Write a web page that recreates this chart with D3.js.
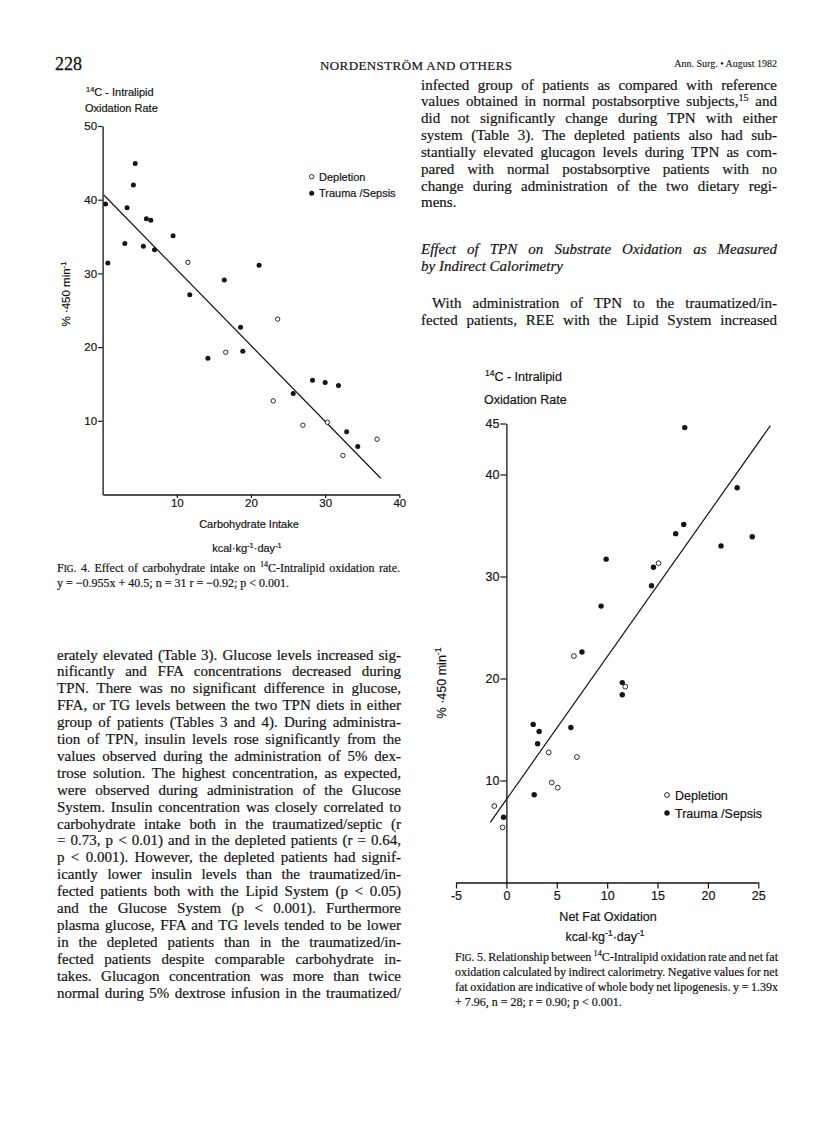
<!DOCTYPE html>
<html>
<head>
<meta charset="utf-8">
<script src="https://d3js.org/d3.v7.min.js"></script>
<style>
  body { margin: 0; background: #fff; }
  svg { display: block; }
</style>
</head>
<body>
<svg id="page" width="816" height="1136"></svg>
<script>
// ---- Fig. 4 : carbohydrate intake vs 14C-Intralipid oxidation rate ----
var fig4Trauma = [[0.4,39.4],[4.4,44.9],[4.15,42.0],[3.3,38.9],[5.9,37.4],[6.5,37.2],[9.5,35.1],
  [3.0,34.05],[5.5,33.7],[7.0,33.2],[0.7,31.4],[21.1,31.1],[16.4,29.1],[11.75,27.1],[18.6,22.7],
  [14.2,18.5],[18.9,19.45],[28.3,15.5],[30.0,15.2],[31.8,14.8],[25.7,13.7],[32.9,8.5],[34.4,6.5]];
var fig4Depletion = [[11.5,31.5],[23.6,23.8],[16.6,19.3],[23.0,12.7],[27.0,9.4],[30.3,9.8],[37.0,7.5],[32.4,5.3]];
var fig4Fit = [[0.2,40.6],[37.5,2.2]];
var fig4XTicks = [10,20,30,40];
var fig4YTicks = [10,20,30,40,50];

// ---- Fig. 5 : net fat oxidation vs 14C-Intralipid oxidation rate ----
var fig5Trauma = [[17.7,44.6],[22.9,38.7],[17.6,35.1],[16.8,34.2],[21.3,33.0],[24.4,33.9],[9.9,31.7],
  [14.6,30.9],[14.4,29.1],[9.4,27.1],[7.5,22.6],[11.5,19.6],[11.5,18.4],[2.66,15.5],[3.25,14.8],
  [6.4,15.2],[3.1,13.6],[2.76,8.6],[-0.28,6.4]];
var fig5Depletion = [[15.1,31.3],[6.7,22.2],[11.8,19.2],[4.2,12.75],[7.0,12.3],[4.5,9.8],[5.1,9.3],[-1.2,7.5],[-0.38,5.4]];
var fig5Fit = [[-1.6,5.9],[26.2,44.8]];
var fig5XTicks = [-5,0,5,10,15,20,25];
var fig5YTicks = [10,20,30,40,45];

// ---- page text ----
var rightTop = [
  "infected group of patients as compared with reference",
  "values obtained in normal postabsorptive subjects,<sup>15</sup> and",
  "did not significantly change during TPN with either",
  "system (Table 3). The depleted patients also had sub-",
  "stantially elevated glucagon levels during TPN as com-",
  "pared with normal postabsorptive patients with no",
  "change during administration of the two dietary regi-",
  "mens."];
var rightHeading = ["Effect of TPN on Substrate Oxidation as Measured", "by Indirect Calorimetry"];
var rightPara = ["With administration of TPN to the traumatized/in-",
  "fected patients, REE with the Lipid System increased"];
var leftText = [
  "erately elevated (Table 3). Glucose levels increased sig-",
  "nificantly and FFA concentrations decreased during",
  "TPN. There was no significant difference in glucose,",
  "FFA, or TG levels between the two TPN diets in either",
  "group of patients (Tables 3 and 4). During administra-",
  "tion of TPN, insulin levels rose significantly from the",
  "values observed during the administration of 5% dex-",
  "trose solution. The highest concentration, as expected,",
  "were observed during administration of the Glucose",
  "System. Insulin concentration was closely correlated to",
  "carbohydrate intake both in the traumatized/septic (r",
  "= 0.73, p < 0.01) and in the depleted patients (r = 0.64,",
  "p < 0.001). However, the depleted patients had signif-",
  "icantly lower insulin levels than the traumatized/in-",
  "fected patients both with the Lipid System (p < 0.05)",
  "and the Glucose System (p < 0.001). Furthermore",
  "plasma glucose, FFA and TG levels tended to be lower",
  "in the depleted patients than in the traumatized/in-",
  "fected patients despite comparable carbohydrate in-",
  "takes. Glucagon concentration was more than twice",
  "normal during 5% dextrose infusion in the traumatized/"];
var fig4Caption = ["F<sc>IG</sc>. 4. Effect of carbohydrate intake on <sup>14</sup>C-Intralipid oxidation rate.",
  "y = \u22120.955x + 40.5; n = 31 r = \u22120.92; p < 0.001."];
var fig5Caption = ["F<sc>IG</sc>. 5. Relationship between <sup>14</sup>C-Intralipid oxidation rate and net fat",
  "oxidation calculated by indirect calorimetry. Negative values for net",
  "fat oxidation are indicative of whole body net lipogenesis. y = 1.39x",
  "+ 7.96, n = 28; r = 0.90; p < 0.001."];

var INK = "#141414";
var SERIF = "'Liberation Serif','Times New Roman',serif";
var SANS = "'Liberation Sans',Arial,Helvetica,sans-serif";
var svg = d3.select("#page");

// text with <sup>..</sup> and <sc>..</sc> pieces, optional justification
function richText(g, str, x, y, size, family, opts) {
  opts = opts || {};
  var t = g.append("text").attr("x", x).attr("y", y)
    .style("font-family", family).style("font-size", size + "px").attr("fill", INK)
    .attr("stroke", INK).attr("stroke-width", opts.weight || 0.2)
    .style("white-space", "pre");
  if (opts.anchor) t.attr("text-anchor", opts.anchor);
  if (opts.italic) t.style("font-style", "italic");
  var parts = str.split(/(<sup>.*?<\/sup>|<sc>.*?<\/sc>)/);
  var back = 0, m;
  parts.forEach(function(p) {
    if (!p) return;
    if ((m = p.match(/^<sup>(.*)<\/sup>$/))) {
      t.append("tspan").attr("dy", -size * 0.38).style("font-size", (size * 0.68) + "px").text(m[1]);
      back = size * 0.38;
    } else if ((m = p.match(/^<sc>(.*)<\/sc>$/))) {
      t.append("tspan").attr("dy", back).style("font-size", (size * 0.78) + "px").text(m[1]);
      back = 0;
    } else {
      t.append("tspan").attr("dy", back).text(p);
      back = 0;
    }
  });
  if (opts.width) {
    var w = t.node().getComputedTextLength();
    var n = (t.text().match(/ /g) || []).length;
    if (n) t.style("word-spacing", ((opts.width - w) / n) + "px");
  }
  return t;
}

function block(lines, x0, x1, y0, lh, size, opts) {
  opts = opts || {};
  lines.forEach(function(s, i) {
    var last = opts.lastLoose && i === lines.length - 1;
    var ind = (opts.indent && i === 0) ? opts.indent : 0;
    richText(svg, s, x0 + ind, y0 + i * lh, size, SERIF,
      {width: last ? null : (x1 - x0 - ind), italic: opts.italic});
  });
}

// ---- header ----
richText(svg, "228", 55, 70, 18, SERIF, {weight: 0.3});
richText(svg, "NORDENSTR\u00d6M AND OTHERS", 320, 70, 13, SERIF).attr("textLength", 192);
richText(svg, "Ann. Surg. \u2022 August 1982", 777, 67, 10, SERIF, {anchor: "end", weight: 0.1});

// ---- body text ----
block(rightTop, 421, 777, 89.5, 16.85, 15, {lastLoose: true});
block(rightHeading, 421, 777, 254, 17, 15, {italic: true, lastLoose: true});
block(rightPara, 421, 777, 307.5, 17, 15, {indent: 11});
block(leftText, 57, 401, 659.5, 16.9, 15);
block(fig4Caption, 57, 400, 572, 15, 12, {lastLoose: true});
block(fig5Caption, 455, 778, 961, 15, 12, {lastLoose: true});

// ---- chart helpers ----
function styleAxis(ax, size) {
  ax.attr("font-family", SANS).attr("font-size", size);
  ax.select(".domain").attr("stroke", INK).attr("stroke-width", 1.3);
  ax.selectAll(".tick line").attr("stroke", INK).attr("stroke-width", 1.2);
  ax.selectAll(".tick text").attr("fill", INK).attr("stroke", INK).attr("stroke-width", 0.2);
}
function drawPoints(g, x, y, filled, open, r) {
  g.selectAll(null).data(open).enter().append("circle")
    .attr("cx", function(d) { return x(d[0]); }).attr("cy", function(d) { return y(d[1]); })
    .attr("r", r - 0.3).attr("fill", "#fff").attr("stroke", INK).attr("stroke-width", 0.9);
  g.selectAll(null).data(filled).enter().append("circle")
    .attr("cx", function(d) { return x(d[0]); }).attr("cy", function(d) { return y(d[1]); })
    .attr("r", r).attr("fill", INK);
}

// ---- Fig. 4 ----
var x4 = d3.scaleLinear().domain([0, 40]).range([102.6, 399.3]);
var y4 = d3.scaleLinear().domain([0, 50]).range([494.5, 126]);
var g4 = svg.append("g");
styleAxis(g4.append("g").attr("transform", "translate(0," + y4(0) + ")")
  .call(d3.axisBottom(x4).tickValues(fig4XTicks).tickSize(3.5).tickSizeOuter(0).tickPadding(1)), 11.5);
styleAxis(g4.append("g").attr("transform", "translate(" + x4(0) + ",0)")
  .call(d3.axisLeft(y4).tickValues(fig4YTicks).tickSize(4.5).tickSizeOuter(0).tickPadding(1)), 11.5);
g4.append("path").datum(fig4Fit)
  .attr("d", d3.line().x(function(d) { return x4(d[0]); }).y(function(d) { return y4(d[1]); }))
  .attr("fill", "none").attr("stroke", INK).attr("stroke-width", 1.2);
drawPoints(g4, x4, y4, fig4Trauma, fig4Depletion, 2.5);
richText(g4, "<sup>14</sup>C - Intralipid", 86, 96, 11, SANS);
richText(g4, "Oxidation Rate", 85, 112, 11, SANS);
richText(g4, "% \u00b7450 min<sup>-1</sup>", 0, 0, 11.5, SANS, {anchor: "middle"})
  .attr("transform", "translate(70,294) rotate(-90)");
richText(g4, "Carbohydrate Intake", 249, 528, 11, SANS, {anchor: "middle"});
richText(g4, "kcal\u00b7kg<sup>-1</sup>\u00b7day<sup>-1</sup>", 247, 552, 11, SANS, {anchor: "middle"});
g4.append("circle").attr("cx", 311.7).attr("cy", 176.7).attr("r", 2.2)
  .attr("fill", "#fff").attr("stroke", INK).attr("stroke-width", 0.9);
g4.append("circle").attr("cx", 311.7).attr("cy", 193.3).attr("r", 2.5).attr("fill", INK);
richText(g4, "Depletion", 319, 180.7, 11, SANS);
richText(g4, "Trauma /Sepsis", 319, 197.3, 11, SANS);

// ---- Fig. 5 ----
var x5 = d3.scaleLinear().domain([-5, 25]).range([456, 758.3]);
var y5 = d3.scaleLinear().domain([0, 45]).range([882.5, 423.5]);
var g5 = svg.append("g");
styleAxis(g5.append("g").attr("transform", "translate(0," + y5(0) + ")")
  .call(d3.axisBottom(x5).tickValues(fig5XTicks).tickSize(6).tickSizeOuter(0).tickPadding(3)
    .tickFormat(function(d) { return String(d); })), 12.5);
styleAxis(g5.append("g").attr("transform", "translate(" + x5(0) + ",0)")
  .call(d3.axisLeft(y5).tickValues(fig5YTicks).tickSize(6).tickSizeOuter(0).tickPadding(1)), 12.5);
g5.append("path").datum(fig5Fit)
  .attr("d", d3.line().x(function(d) { return x5(d[0]); }).y(function(d) { return y5(d[1]); }))
  .attr("fill", "none").attr("stroke", INK).attr("stroke-width", 1.2);
drawPoints(g5, x5, y5, fig5Trauma, fig5Depletion, 2.7);
richText(g5, "<sup>14</sup>C - Intralipid", 485, 381, 12.5, SANS);
richText(g5, "Oxidation Rate", 484, 404, 12.5, SANS);
richText(g5, "% \u00b7450 min<sup>-1</sup>", 0, 0, 12.5, SANS, {anchor: "middle"})
  .attr("transform", "translate(446,683) rotate(-90)");
richText(g5, "Net Fat Oxidation", 608, 921, 12.5, SANS, {anchor: "middle"});
richText(g5, "kcal\u00b7kg<sup>-1</sup>\u00b7day<sup>-1</sup>", 605, 941, 12.5, SANS, {anchor: "middle"});
g5.append("circle").attr("cx", 667).attr("cy", 795).attr("r", 2.4)
  .attr("fill", "#fff").attr("stroke", INK).attr("stroke-width", 0.9);
g5.append("circle").attr("cx", 667).attr("cy", 813).attr("r", 2.7).attr("fill", INK);
richText(g5, "Depletion", 675, 799.5, 12.5, SANS);
richText(g5, "Trauma /Sepsis", 675, 817.5, 12.5, SANS);
</script>
</body>
</html>
